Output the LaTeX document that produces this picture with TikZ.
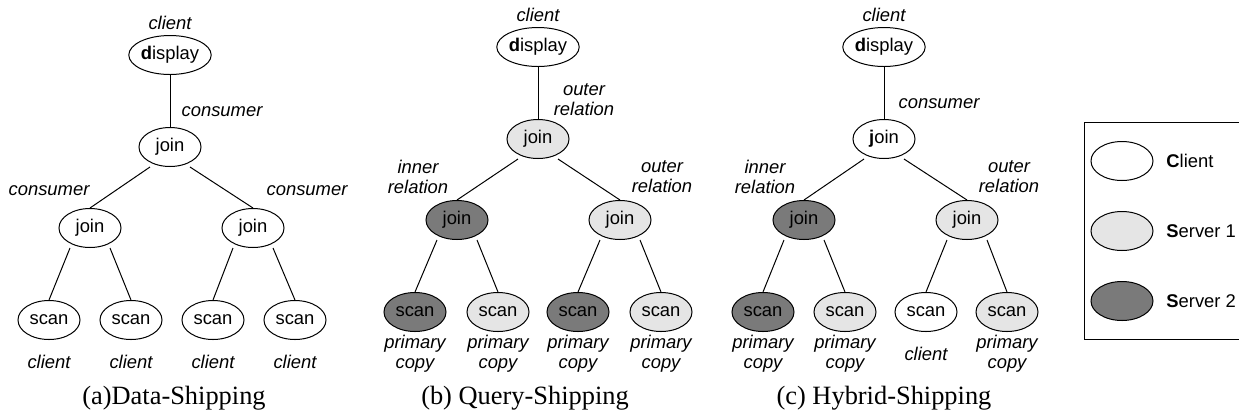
\documentclass[tikz,border=0pt]{standalone}
\usepackage{fontspec}
\setmainfont{Liberation Serif}
\setsansfont{Liberation Sans}
\usetikzlibrary{shapes.geometric}
\begin{document}
\begin{tikzpicture}[x=0.5pt,y=-0.5pt,
 op/.style={ellipse,draw,line width=0.5pt,minimum width=31pt,minimum height=19.5pt,inner sep=0pt,font=\sffamily\fontsize{9.2}{10}\selectfont},
 cli/.style={op,fill=white},
 sva/.style={op,fill=black!10},
 svb/.style={op,fill=black!52},
 lab/.style={font=\sffamily\itshape\fontsize{9.2}{10}\selectfont,align=center,inner sep=0pt},
 captext/.style={font=\fontsize{13.2}{15}\selectfont,inner sep=0pt},
 conn/.style={draw,line width=0.5pt},
 leg/.style={font=\sffamily\fontsize{9.2}{10}\selectfont,anchor=west,inner sep=0pt}
]
\useasboundingbox (0,0) rectangle (1239,414);

% ---------------- (a) Data-Shipping ----------------
\node[lab] (aCl) at (170,23) {client};
\node[cli] (aD) at (170,55) {\textbf{d}isplay};
\node[lab] (aC0) at (222,112) {consumer};
\node[cli] (aJ) at (170,147) {join};
\node[lab] (aC1) at (49,191) {consumer};
\node[lab] (aC2) at (307,191) {consumer};
\node[cli] (aJ1) at (90,228) {join};
\node[cli] (aJ2) at (253,228) {join};
\node[cli] (aS1) at (49,320) {scan};
\node[cli] (aS2) at (131,320) {scan};
\node[cli] (aS3) at (213,320) {scan};
\node[cli] (aS4) at (295,320) {scan};
\node[lab] (aL1) at (49,362) {client};
\node[lab] (aL2) at (131,362) {client};
\node[lab] (aL3) at (213,362) {client};
\node[lab] (aL4) at (295,362) {client};
\node[captext] (aCap) at (174,398) {(a)Data-Shipping};
\draw[conn] (aD) -- (aJ);
\draw[conn] ([xshift=-10pt]aJ.south) -- (aJ1.north);
\draw[conn] ([xshift=10pt]aJ.south) -- (aJ2.north);
\draw[conn] ([xshift=-10pt]aJ1.south) -- (aS1.north);
\draw[conn] ([xshift=10pt]aJ1.south) -- (aS2.north);
\draw[conn] ([xshift=-10pt]aJ2.south) -- (aS3.north);
\draw[conn] ([xshift=10pt]aJ2.south) -- (aS4.north);

% ---------------- (b) Query-Shipping ----------------
\node[lab] (bCl) at (538,15) {client};
\node[cli] (bD) at (538,47) {\textbf{d}isplay};
\node[lab] (bR0) at (584,100) {outer\\relation};
\node[sva] (bJ) at (538,139) {join};
\node[lab] (bR1) at (418,177) {inner\\relation};
\node[lab] (bR2) at (662,177) {outer\\relation};
\node[svb] (bJ1) at (457,220) {join};
\node[sva] (bJ2) at (620,220) {join};
\node[svb] (bS1) at (415,312) {scan};
\node[sva] (bS2) at (498,312) {scan};
\node[svb] (bS3) at (578,312) {scan};
\node[sva] (bS4) at (661,312) {scan};
\node[lab] (bL1) at (415,354) {primary\\copy};
\node[lab] (bL2) at (498,354) {primary\\copy};
\node[lab] (bL3) at (578,354) {primary\\copy};
\node[lab] (bL4) at (661,354) {primary\\copy};
\node[captext] (bCap) at (525,398) {(b) Query-Shipping};
\draw[conn] (bD) -- (bJ);
\draw[conn] ([xshift=-10pt]bJ.south) -- (bJ1.north);
\draw[conn] ([xshift=10pt]bJ.south) -- (bJ2.north);
\draw[conn] ([xshift=-10pt]bJ1.south) -- (bS1.north);
\draw[conn] ([xshift=10pt]bJ1.south) -- (bS2.north);
\draw[conn] ([xshift=-10pt]bJ2.south) -- (bS3.north);
\draw[conn] ([xshift=10pt]bJ2.south) -- (bS4.north);

% ---------------- (c) Hybrid-Shipping ----------------
\node[lab] (cCl) at (884,15) {client};
\node[cli] (cD) at (884,47) {\textbf{d}isplay};
\node[lab] (cC0) at (939,104) {consumer};
\node[cli] (cJ) at (884,139) {\textbf{j}oin};
\node[lab] (cR1) at (765,177) {inner\\relation};
\node[lab] (cR2) at (1009,177) {outer\\relation};
\node[svb] (cJ1) at (804,220) {join};
\node[sva] (cJ2) at (967,220) {join};
\node[svb] (cS1) at (763,312) {scan};
\node[sva] (cS2) at (845,312) {scan};
\node[cli] (cS3) at (926,312) {scan};
\node[sva] (cS4) at (1007,312) {scan};
\node[lab] (cL1) at (763,354) {primary\\copy};
\node[lab] (cL2) at (845,354) {primary\\copy};
\node[lab] (cL3) at (926,354) {client};
\node[lab] (cL4) at (1007,354) {primary\\copy};
\node[captext] (cCap) at (884,398) {(c) Hybrid-Shipping};
\draw[conn] (cD) -- (cJ);
\draw[conn] ([xshift=-10pt]cJ.south) -- (cJ1.north);
\draw[conn] ([xshift=10pt]cJ.south) -- (cJ2.north);
\draw[conn] ([xshift=-10pt]cJ1.south) -- (cS1.north);
\draw[conn] ([xshift=10pt]cJ1.south) -- (cS2.north);
\draw[conn] ([xshift=-10pt]cJ2.south) -- (cS3.north);
\draw[conn] ([xshift=10pt]cJ2.south) -- (cS4.north);

% ---------------- Legend ----------------
\draw[line width=0.5pt] (1245,122) -- (1084,122) -- (1084,339) -- (1245,339);
\node[cli] (gA) at (1122,161) {};
\node[sva] (gB) at (1122,231) {};
\node[svb] (gC) at (1122,301) {};
\node[leg] (gAt) at (1166,161) {\textbf{C}lient};
\node[leg] (gBt) at (1166,231) {\textbf{S}erver 1};
\node[leg] (gCt) at (1166,301) {\textbf{S}erver 2};
\end{tikzpicture}
\end{document}
